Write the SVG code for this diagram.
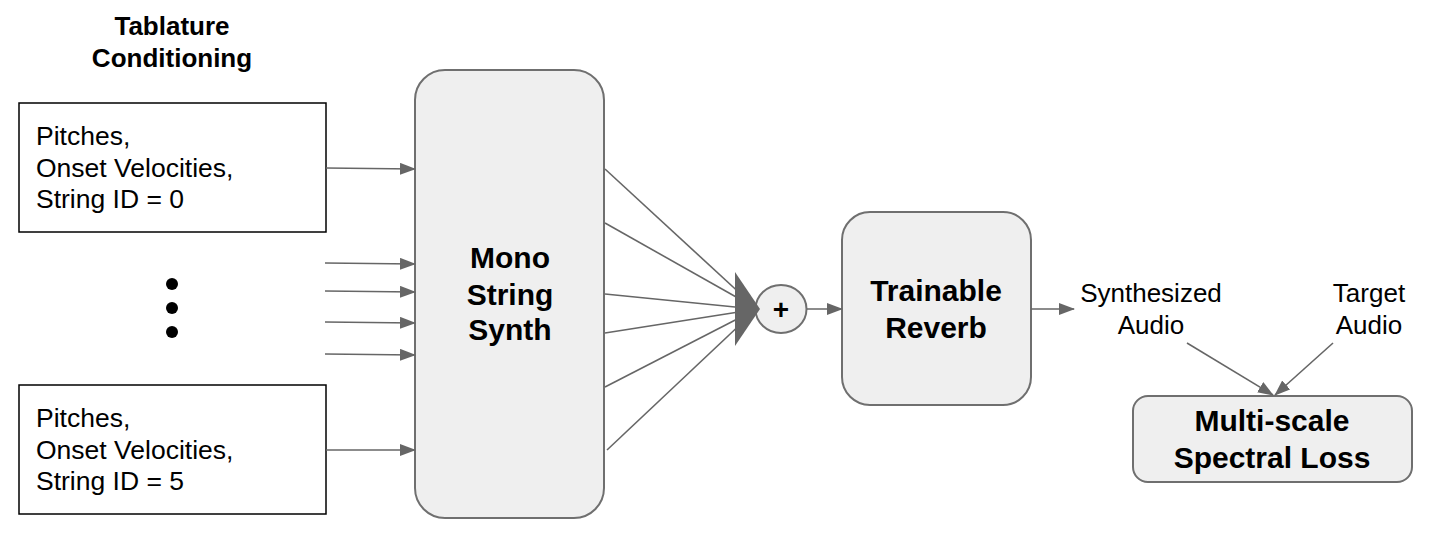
<svg xmlns="http://www.w3.org/2000/svg" width="1436" height="558" viewBox="0 0 1436 558">
<style>
text{font-family:"Liberation Sans",Arial,sans-serif;fill:#000}
.b{font-weight:bold}
.node{fill:#efefef;stroke:#6f6f6f;stroke-width:2}
.plain{fill:#fff;stroke:#000;stroke-width:1.5}
.c{stroke:#666;stroke-width:1.6;fill:none}
.ca{stroke:#666;stroke-width:1.6;fill:none;marker-end:url(#ah)}
.t{font-size:26.5px}
.h{font-size:30px;font-weight:bold;text-anchor:middle}
</style>
<defs>
<marker id="ah" markerWidth="16" markerHeight="12" refX="15" refY="6" orient="auto" markerUnits="userSpaceOnUse">
<path d="M0,0 L16,6 L0,12 Z" fill="#666"/>
</marker>
</defs>
<rect width="1436" height="558" fill="#fff"/>
<g id="title">
<text class="b" x="172" y="35" font-size="26" text-anchor="middle">Tablature</text>
<text class="b" x="172" y="67" font-size="26" text-anchor="middle">Conditioning</text>
</g>
<g id="input0">
<rect class="plain" x="19" y="103" width="307" height="129"/>
<text class="t" x="36" y="145">Pitches,</text>
<text class="t" x="36" y="177">Onset Velocities,</text>
<text class="t" x="36" y="208">String ID = 0</text>
</g>
<g id="ellipsis">
<circle cx="172" cy="284" r="6" fill="#000"/>
<circle cx="172" cy="308" r="6" fill="#000"/>
<circle cx="172" cy="332" r="6" fill="#000"/>
</g>
<g id="input5">
<rect class="plain" x="19" y="385" width="307" height="129"/>
<text class="t" x="36" y="427">Pitches,</text>
<text class="t" x="36" y="459">Onset Velocities,</text>
<text class="t" x="36" y="490">String ID = 5</text>
</g>
<g id="synth">
<rect class="node" x="415" y="70" width="189" height="448" rx="30" ry="30"/>
<text class="h" x="510" y="268">Mono</text>
<text class="h" x="510" y="305">String</text>
<text class="h" x="510" y="340">Synth</text>
</g>
<g id="sum">
<ellipse class="node" cx="781" cy="309" rx="25.5" ry="24" stroke-width="1.6"/>
<text class="b" x="781" y="319" font-size="28" text-anchor="middle">+</text>
</g>
<g id="reverb">
<rect class="node" x="842" y="212" width="189" height="193" rx="28" ry="28"/>
<text class="h" x="936" y="301">Trainable</text>
<text class="h" x="936" y="338">Reverb</text>
</g>
<g id="labels">
<text x="1151" y="302" font-size="26" text-anchor="middle">Synthesized</text>
<text x="1151" y="334" font-size="26" text-anchor="middle">Audio</text>
<text x="1369" y="302" font-size="26" text-anchor="middle">Target</text>
<text x="1369" y="334" font-size="26" text-anchor="middle">Audio</text>
</g>
<g id="loss">
<rect class="node" x="1133" y="396" width="279" height="86" rx="15" ry="15"/>
<text class="h" x="1272" y="431" font-size="30.5">Multi-scale</text>
<text class="h" x="1272" y="468" font-size="30.5">Spectral Loss</text>
</g>
<g id="connectors">
<line class="ca" x1="326" y1="168" x2="415" y2="169"/>
<line class="ca" x1="325" y1="263" x2="415" y2="264"/>
<line class="ca" x1="325" y1="291" x2="415" y2="292"/>
<line class="ca" x1="325" y1="322" x2="415" y2="323"/>
<line class="ca" x1="325" y1="354" x2="415" y2="355"/>
<line class="ca" x1="326" y1="450" x2="415" y2="450"/>
<line class="c" x1="605" y1="169" x2="745" y2="298"/>
<line class="c" x1="605" y1="223" x2="745" y2="302"/>
<line class="c" x1="605" y1="294" x2="745" y2="308"/>
<line class="c" x1="605" y1="333" x2="745" y2="311"/>
<line class="c" x1="605" y1="387" x2="745" y2="315"/>
<line class="c" x1="607" y1="450" x2="745" y2="320"/>
<polygon points="735,272 760,309 735,346" fill="#666"/>
<line class="ca" x1="807" y1="309" x2="842" y2="309"/>
<line class="ca" x1="1031" y1="309" x2="1074" y2="309"/>
<line class="ca" x1="1187" y1="343" x2="1273" y2="395"/>
<line class="ca" x1="1333" y1="343" x2="1275" y2="395"/>
</g>
</svg>
